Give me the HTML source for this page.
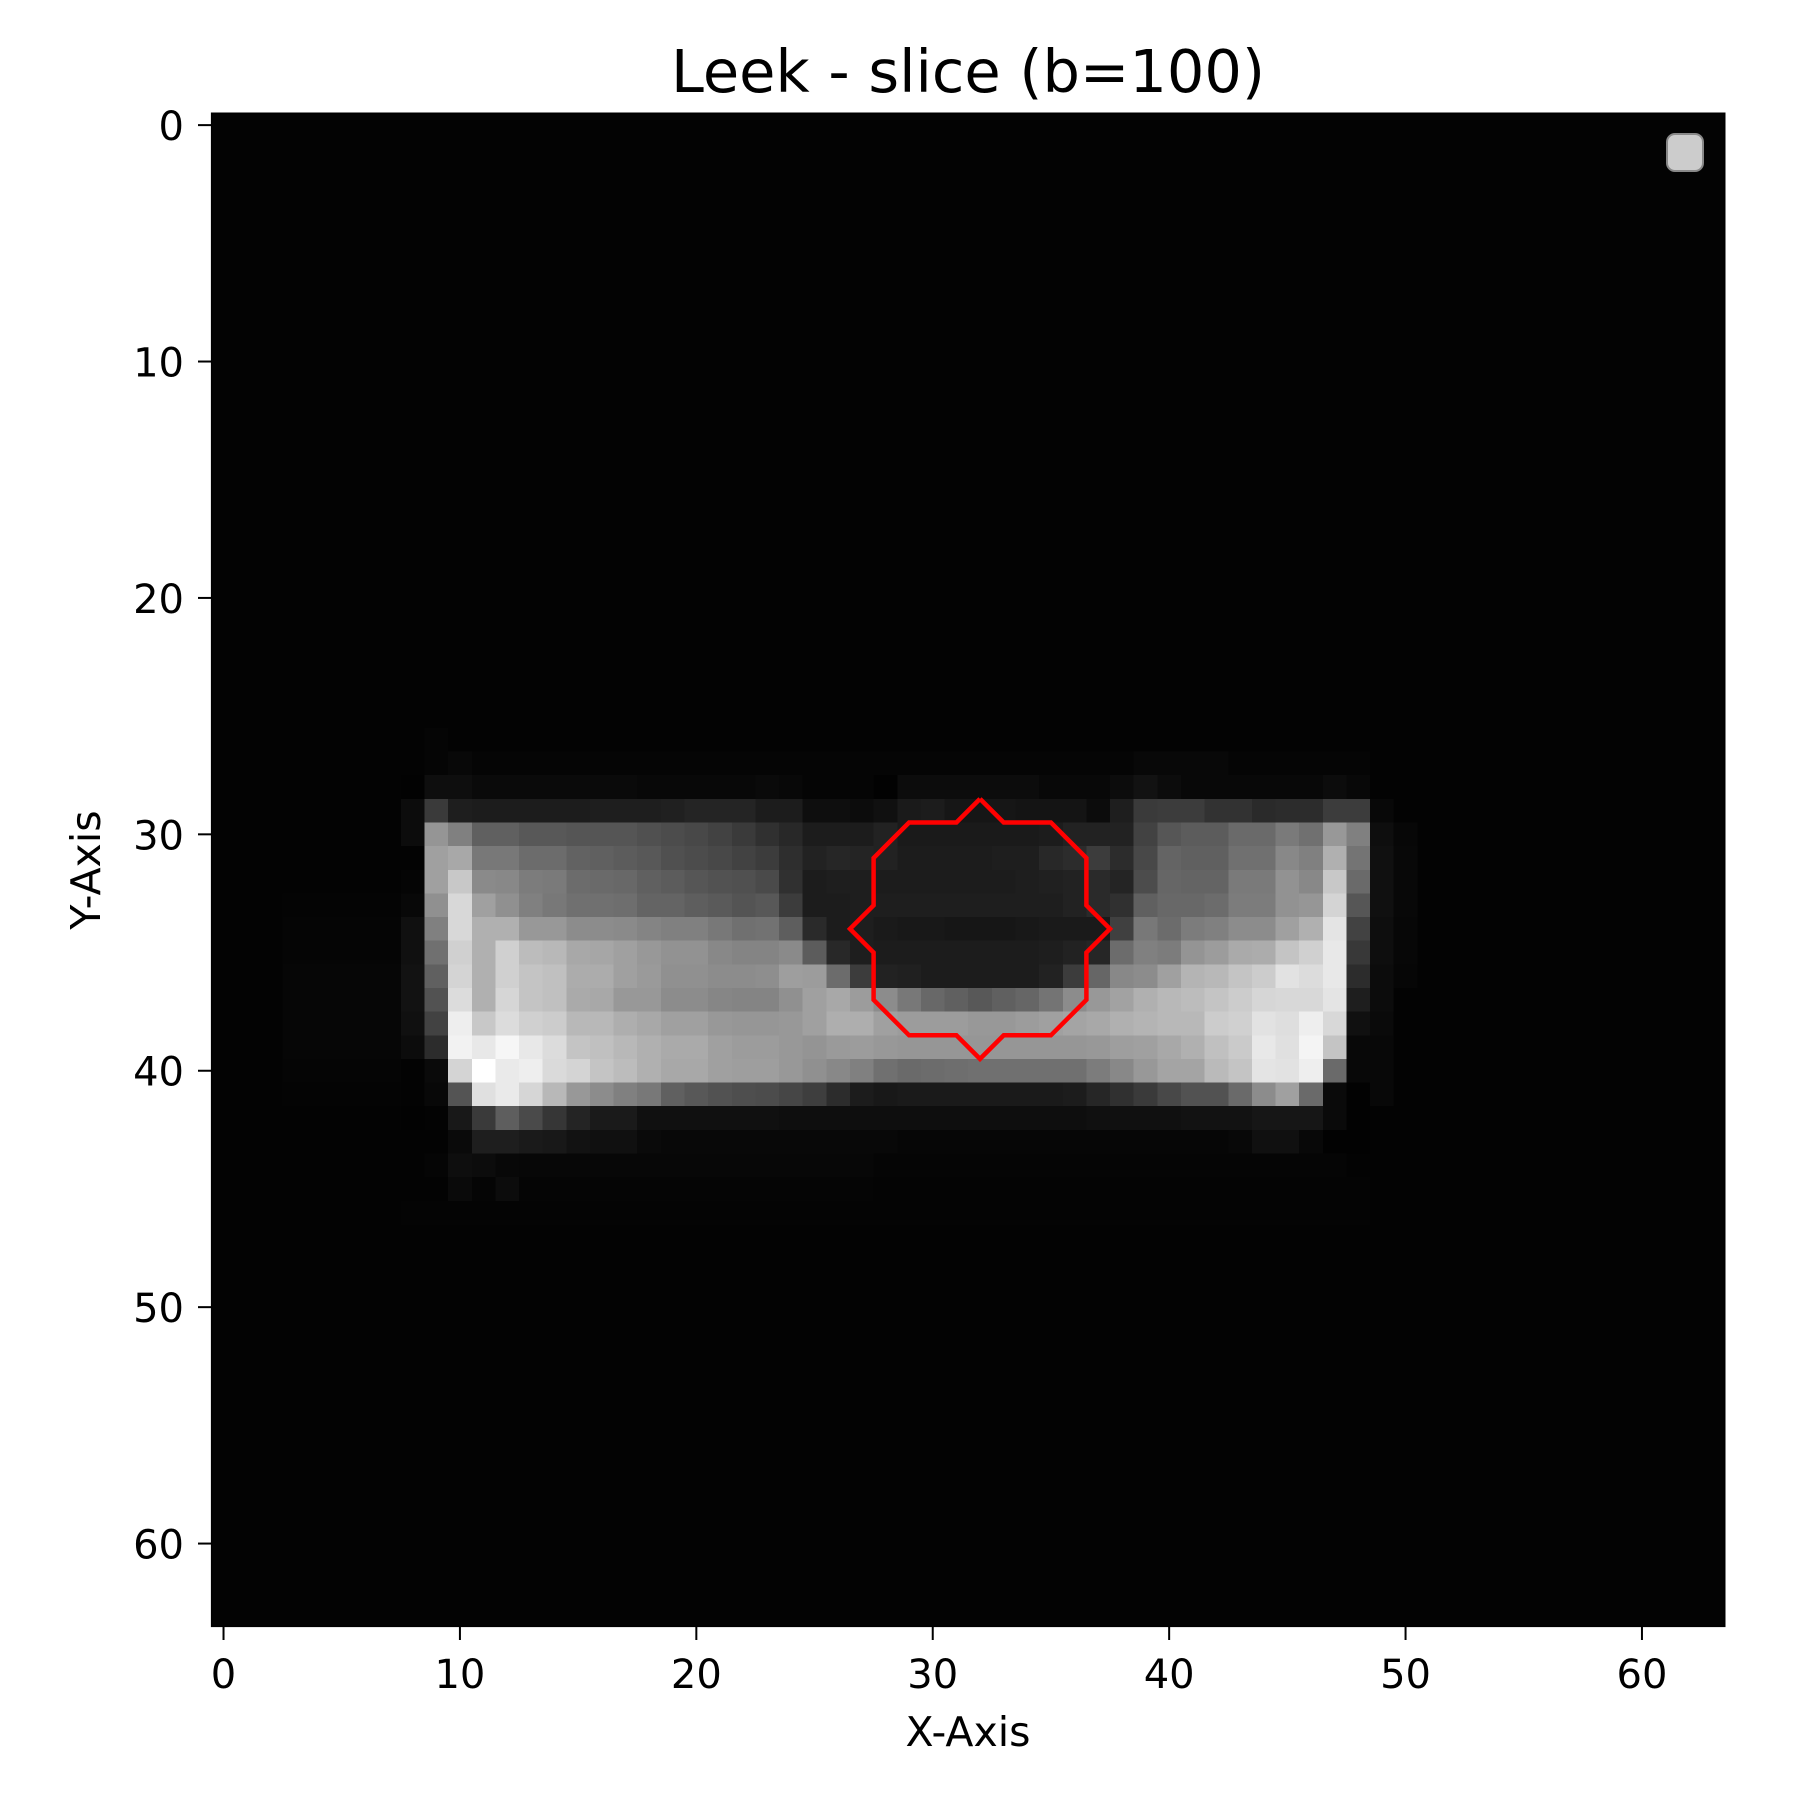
<!DOCTYPE html>
<html><head><meta charset="utf-8"><style>
html,body{margin:0;padding:0;background:#fff;}
svg{display:block;}
text{font-family:"DejaVu Sans","Liberation Sans",sans-serif;fill:#000;}
</style></head><body>
<svg id="chart" width="1800" height="1800" viewBox="0 0 1800 1800" xmlns="http://www.w3.org/2000/svg">
<rect x="0" y="0" width="1800" height="1800" fill="#fff"/>
<text x="968" y="92" font-size="59" text-anchor="middle">Leek - slice (b=100)</text>
<g id="heat" shape-rendering="crispEdges"></g>
<g id="overlay"></g>
<rect x="211.7" y="113.3" width="1513" height="1513" fill="none" stroke="#000" stroke-width="1.6"/>
<g id="xticks"></g>
<g id="yticks"></g>
<text x="968" y="1746" font-size="41" text-anchor="middle">X-Axis</text>
<text transform="translate(100,870) rotate(-90)" font-size="41" text-anchor="middle">Y-Axis</text>
<rect x="1667" y="134" width="36" height="37" rx="8" fill="#cccccc" stroke="#888" stroke-width="2"/>
</svg>
<script>
const gridSize = 64;
const bgValue = 3;
const bandStartRow = 26;
const bandStartCol = 8;
const bandRows = [
[3,5,3,3,3,3,3,3,3,3,3,3,3,3,3,3,3,3,3,3,3,3,3,3,3,3,3,3,3,3,3,3,3,3,3,3,3,3,3,3,3],
[0x03,0x05,0x08,0x05,0x05,0x05,0x05,0x05,0x05,0x05,0x05,0x05,0x05,0x05,0x05,0x05,0x05,0x05,0x05,0x05,0x05,0x05,0x05,0x05,0x05,0x05,0x05,0x05,0x05,0x05,0x05,0x08,0x08,0x08,0x08,0x05,0x05,0x05,0x05,0x05,0x05],
[0x02,0x0e,0x0e,0x0a,0x0a,0x0a,0x0a,0x0a,0x0a,0x0a,0x08,0x08,0x08,0x08,0x08,0x0a,0x08,0x05,0x05,0x05,0x02,0x0c,0x0c,0x0c,0x0c,0x0c,0x0c,0x08,0x08,0x08,0x0c,0x12,0x0c,0x08,0x08,0x08,0x08,0x08,0x08,0x0c,0x08],
[0x0c,0x3a,0x1e,0x1c,0x1c,0x1c,0x1c,0x1c,0x1e,0x1e,0x1e,0x20,0x24,0x24,0x24,0x1c,0x1c,0x0e,0x0e,0x0c,0x10,0x1a,0x1c,0x16,0x16,0x16,0x14,0x14,0x14,0x0c,0x1e,0x3a,0x3c,0x3c,0x32,0x32,0x2a,0x2c,0x2c,0x3c,0x3c],
[0x0c,0x95,0x80,0x60,0x60,0x58,0x58,0x55,0x55,0x55,0x50,0x4c,0x48,0x42,0x3a,0x30,0x28,0x1c,0x1c,0x1c,0x22,0x1a,0x1a,0x1a,0x1a,0x1a,0x1a,0x1c,0x22,0x22,0x22,0x42,0x56,0x5c,0x5c,0x6a,0x6a,0x7a,0x70,0x98,0x80],
[0x03,0xa0,0xa8,0x78,0x78,0x6c,0x6c,0x62,0x60,0x5c,0x58,0x50,0x4c,0x48,0x42,0x3c,0x2e,0x22,0x26,0x24,0x22,0x1c,0x1c,0x1c,0x1c,0x1e,0x1e,0x28,0x2c,0x3c,0x2c,0x48,0x64,0x60,0x60,0x70,0x70,0x88,0x80,0xb0,0x74],
[0x05,0xa0,0xc8,0x8a,0x88,0x7c,0x7a,0x6c,0x6a,0x68,0x60,0x5c,0x56,0x52,0x50,0x4a,0x30,0x1c,0x1e,0x1e,0x1c,0x1c,0x1c,0x1c,0x1c,0x1c,0x1e,0x20,0x22,0x2a,0x24,0x4c,0x66,0x64,0x64,0x7a,0x7a,0x92,0x88,0xc8,0x6a],
[0x08,0x90,0xd8,0xa0,0x90,0x80,0x78,0x70,0x70,0x6e,0x64,0x64,0x5e,0x5a,0x54,0x58,0x3c,0x1c,0x1c,0x1e,0x1e,0x1e,0x1e,0x1e,0x1e,0x1e,0x1e,0x1e,0x22,0x2a,0x30,0x60,0x68,0x68,0x6c,0x7c,0x7c,0x92,0x96,0xd4,0x56],
[0x10,0x80,0xd8,0xb0,0xb0,0x98,0x98,0x8c,0x8c,0x8a,0x84,0x80,0x80,0x78,0x70,0x72,0x5e,0x2a,0x1c,0x1e,0x1a,0x18,0x18,0x16,0x16,0x16,0x18,0x1a,0x1a,0x1a,0x40,0x78,0x6c,0x7c,0x80,0x8c,0x8c,0xa0,0xb0,0xe4,0x42],
[0x10,0x70,0xd0,0xb0,0xd0,0xbc,0xb8,0xa8,0xa6,0xa0,0x98,0x92,0x92,0x88,0x84,0x84,0x8a,0x5c,0x28,0x1e,0x1c,0x1c,0x1c,0x1c,0x1c,0x1c,0x1c,0x1e,0x22,0x26,0x6c,0x80,0x7c,0x94,0x9c,0xaa,0xac,0xc4,0xd0,0xe8,0x38],
[0x12,0x60,0xd4,0xb0,0xd0,0xc4,0xc0,0xac,0xac,0xa0,0x9a,0x90,0x90,0x8c,0x8c,0x8e,0x9e,0x9c,0x6c,0x3c,0x22,0x20,0x1c,0x1c,0x1c,0x1c,0x1c,0x22,0x3c,0x66,0x88,0x8c,0xa0,0xb4,0xb8,0xc4,0xcc,0xe2,0xdc,0xe8,0x2c],
[0x12,0x52,0xdc,0xb0,0xd6,0xc4,0xc0,0xaa,0xa8,0x98,0x98,0x8c,0x8c,0x86,0x84,0x84,0x90,0xa0,0xa8,0x9c,0x8c,0x78,0x68,0x60,0x58,0x60,0x66,0x74,0x8c,0x98,0xa2,0xb0,0xb8,0xbc,0xc4,0xcc,0xd6,0xd8,0xd8,0xe4,0x1e],
[0x10,0x42,0xee,0xc8,0xdc,0xd0,0xcc,0xb8,0xb8,0xae,0xa8,0xa0,0xa0,0x98,0x96,0x96,0x98,0xa0,0xae,0xae,0xa0,0x9c,0x9c,0x9c,0x98,0x98,0x9c,0xa0,0xa4,0xa8,0xb0,0xb4,0xb8,0xb8,0xcc,0xd0,0xe2,0xde,0xee,0xd8,0x10],
[0x0c,0x2c,0xf2,0xe8,0xf6,0xe8,0xdc,0xc4,0xc0,0xb8,0xb0,0xaa,0xaa,0xa0,0x9c,0x9c,0x98,0x94,0x9a,0x9c,0x98,0x96,0x96,0x96,0x96,0x96,0x96,0x96,0x96,0x98,0x9e,0xa0,0xa8,0xb0,0xc0,0xca,0xe8,0xe0,0xf4,0xc4,0x08],
[0x03,0x0a,0xd4,0xff,0xea,0xee,0xda,0xd4,0xc4,0xbc,0xb0,0xa8,0xa8,0xa0,0x9e,0x9e,0x98,0x90,0x88,0x80,0x70,0x6a,0x6c,0x6e,0x70,0x70,0x70,0x70,0x70,0x7c,0x88,0x98,0xa4,0xa4,0xba,0xc4,0xe4,0xe2,0xee,0x6a,0x08],
[0x03,0x08,0x54,0xe0,0xea,0xd6,0xb8,0x98,0x8c,0x80,0x78,0x60,0x58,0x52,0x4e,0x4c,0x46,0x3e,0x2c,0x1c,0x18,0x1a,0x1a,0x1a,0x1a,0x1a,0x1a,0x1a,0x1c,0x26,0x30,0x3a,0x48,0x52,0x52,0x6a,0x8c,0xa0,0x6a,0x0a,0x02],
[0x02,0x03,0x18,0x3a,0x5e,0x4a,0x36,0x24,0x1a,0x1a,0x10,0x10,0x10,0x10,0x10,0x10,0x0e,0x0e,0x0e,0x0e,0x0e,0x0e,0x0e,0x0e,0x0e,0x0e,0x0e,0x0e,0x0e,0x10,0x10,0x10,0x10,0x12,0x12,0x12,0x16,0x16,0x16,0x0a,0x02],
[0x03,0x03,0x0a,0x1e,0x1e,0x1a,0x18,0x12,0x10,0x10,0x0a,0x08,0x08,0x08,0x08,0x08,0x08,0x08,0x08,0x08,0x08,0x06,0x06,0x06,0x06,0x06,0x06,0x06,0x06,0x06,0x06,0x06,0x06,0x06,0x06,0x08,0x10,0x10,0x08,0x02,0x02],
[0x03,0x05,0x0e,0x0c,0x08,0x07,0x07,0x07,0x07,0x07,0x07,0x07,0x07,0x07,0x07,0x07,0x07,0x07,0x07,0x07,0x05,0x05,0x05,0x05,0x05,0x05,0x05,0x05,0x05,0x05,0x05,0x05,0x05,0x05,0x05,0x05,0x05,0x05,0x05,0x05,0x03],
[0x03,0x03,0x0a,0x05,0x0c,0x05,0x05,0x05,0x05,0x05,0x05,0x05,0x05,0x05,0x05,0x05,0x05,0x05,0x05,0x05,0x04,0x04,0x04,0x04,0x04,0x04,0x04,0x04,0x04,0x04,0x04,0x04,0x04,0x04,0x04,0x04,0x04,0x04,0x04,0x04,0x04],
[4,4,4,4,4,4,4,4,4,4,4,4,4,4,4,4,4,4,4,4,4,4,4,4,4,4,4,4,4,4,4,4,4,4,4,4,4,4,4,4,4]
];
const leftGlowRows = [33,34,35,36,37,38,39,40,41];
const leftGlowValues = [4,5,5,6,6,6,6,5,4];
const col49Values = [0x08,0x0e,0x10,0x10,0x10,0x0e,0x0e,0x0c,0x0c,0x0a,0x08,0x08,0x08];
const col49StartRow = 29;
const roiX = [32,33,35,36.5,36.5,37.5,36.5,36.5,35,33,32,31,29,27.5,27.5,26.5,27.5,27.5,29,31,32];
const roiY = [28.5,29.5,29.5,31,33,34,35,37,38.5,38.5,39.5,38.5,38.5,37,35,34,33,31,29.5,29.5,28.5];
const tickValues = [0,10,20,30,40,50,60];

const x0 = 211.7, y0 = 113.3, cell = 1513/64;
const sx = v => x0 + (v + 0.5) * cell;
const sy = v => y0 + (v + 0.5) * cell;
const NS = 'http://www.w3.org/2000/svg';

const grid = [];
for (let r = 0; r < gridSize; r++) { grid.push(new Array(gridSize).fill(bgValue)); }
bandRows.forEach((row, i) => row.forEach((v, j) => { grid[bandStartRow + i][bandStartCol + j] = v; }));
leftGlowRows.forEach((r, i) => { for (let c = 3; c < 8; c++) grid[r][c] = leftGlowValues[i]; });
col49Values.forEach((v, i) => { grid[col49StartRow + i][49] = v; if (i > 0 && i < 8) grid[col49StartRow + i][50] = Math.max(3, Math.round(v * 0.5)); });

const heat = document.getElementById('heat');
for (let r = 0; r < gridSize; r++) {
  for (let c = 0; c < gridSize; c++) {
    const v = grid[r][c];
    const el = document.createElementNS(NS, 'rect');
    el.setAttribute('x', (sx(c - 0.5)).toFixed(2));
    el.setAttribute('y', (sy(r - 0.5)).toFixed(2));
    el.setAttribute('width', (cell + 0.6).toFixed(2));
    el.setAttribute('height', (cell + 0.6).toFixed(2));
    el.setAttribute('fill', `rgb(${v},${v},${v})`);
    
    
    heat.appendChild(el);
  }
}

const ov = document.getElementById('overlay');
const poly = document.createElementNS(NS, 'polyline');
poly.setAttribute('points', roiX.map((x, i) => sx(x).toFixed(1) + ',' + sy(roiY[i]).toFixed(1)).join(' '));
poly.setAttribute('fill', 'none');
poly.setAttribute('stroke', '#ff0000');
poly.setAttribute('stroke-width', '4.5');
poly.setAttribute('stroke-linejoin', 'miter');


ov.appendChild(poly);

const xg = document.getElementById('xticks'), yg = document.getElementById('yticks');
tickValues.forEach(t => {
  const X = sx(t);
  const tl = document.createElementNS(NS, 'line');
  tl.setAttribute('x1', X); tl.setAttribute('x2', X);
  tl.setAttribute('y1', 1626.7); tl.setAttribute('y2', 1640);
  tl.setAttribute('stroke', '#000'); tl.setAttribute('stroke-width', '2');
  
  
  xg.appendChild(tl);
  const tx = document.createElementNS(NS, 'text');
  tx.setAttribute('x', X); tx.setAttribute('y', 1688);
  tx.setAttribute('font-size', '40'); tx.setAttribute('text-anchor', 'middle');
  tx.textContent = t;
  
  
  xg.appendChild(tx);

  const Y = sy(t);
  const yl = document.createElementNS(NS, 'line');
  yl.setAttribute('x1', 198); yl.setAttribute('x2', 211.7);
  yl.setAttribute('y1', Y); yl.setAttribute('y2', Y);
  yl.setAttribute('stroke', '#000'); yl.setAttribute('stroke-width', '2');
  
  
  yg.appendChild(yl);
  const ty = document.createElementNS(NS, 'text');
  ty.setAttribute('x', 184); ty.setAttribute('y', Y + 15);
  ty.setAttribute('font-size', '40'); ty.setAttribute('text-anchor', 'end');
  ty.textContent = t;
  
  
  yg.appendChild(ty);
});
</script>
</body></html>
